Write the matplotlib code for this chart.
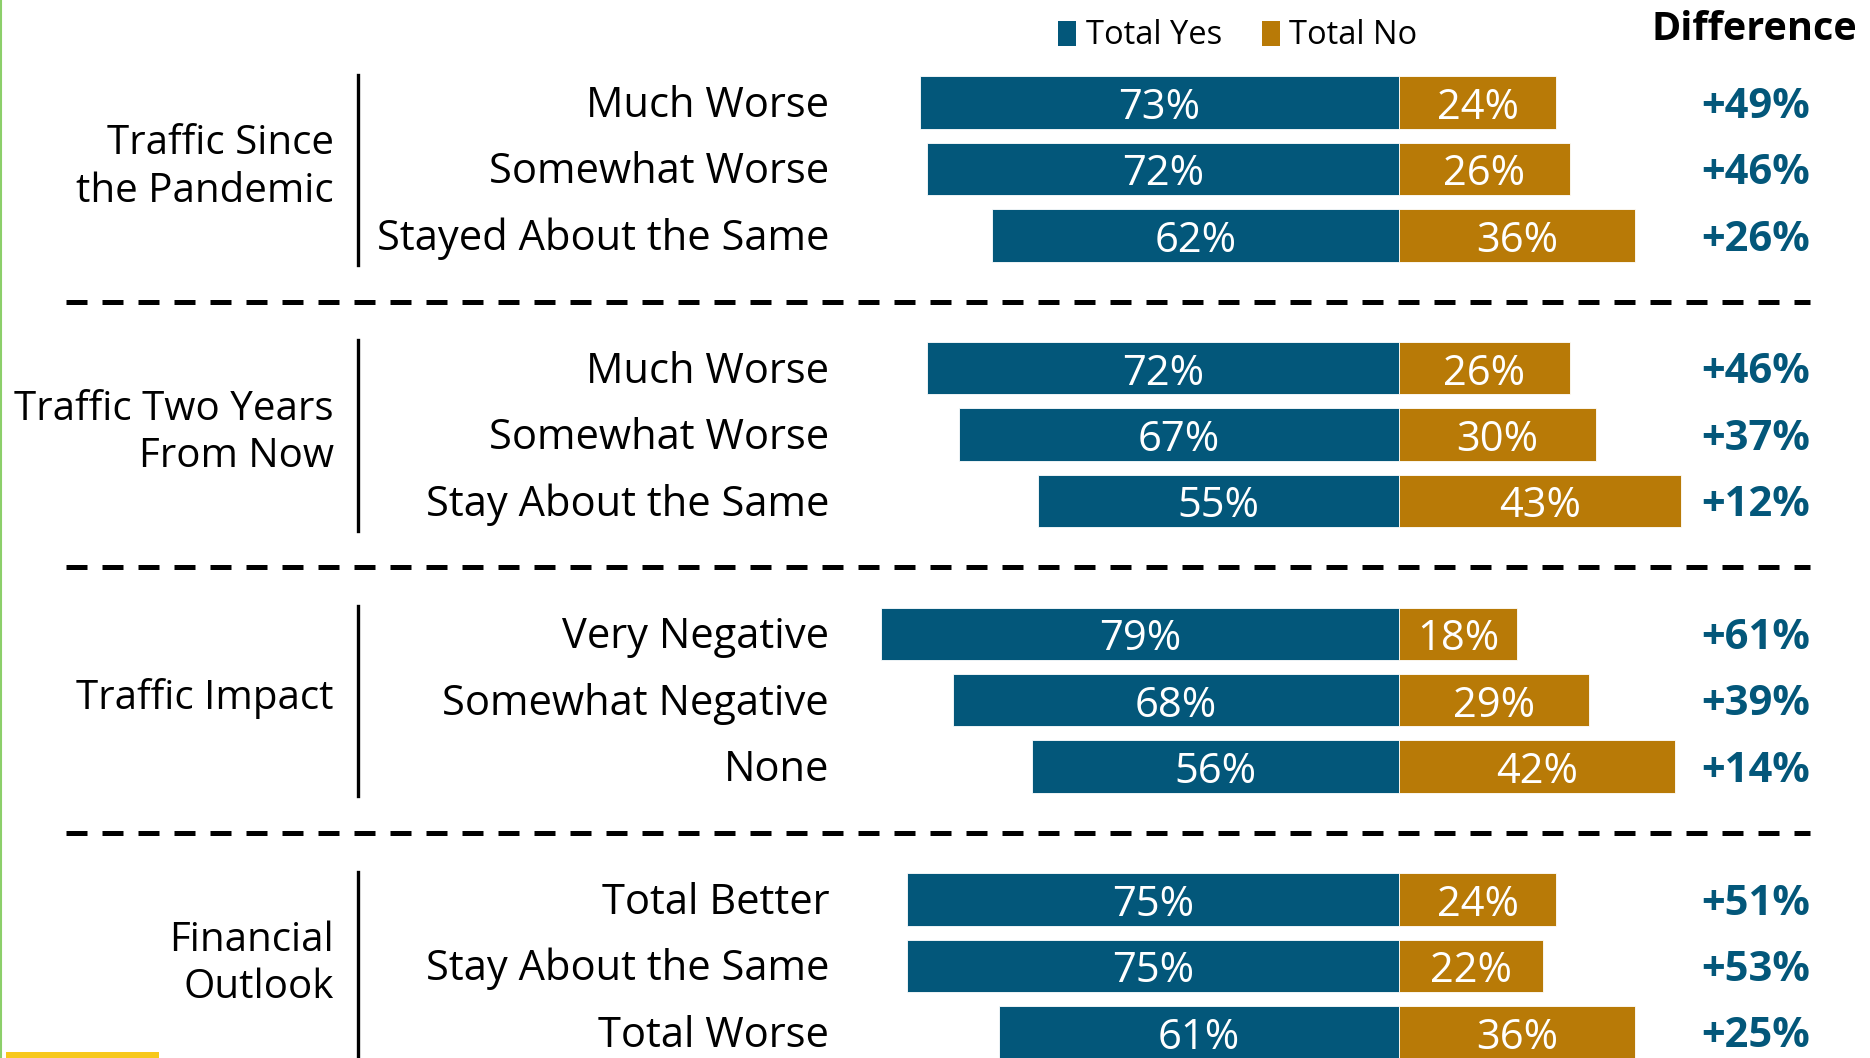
import matplotlib
matplotlib.use('Agg')
import matplotlib.pyplot as plt
from matplotlib.patches import Patch, Rectangle
from matplotlib.lines import Line2D

plt.rcParams['font.family'] = ['Open Sans', 'DejaVu Sans']

# Data
groups = ['Traffic Since\nthe Pandemic', 'Traffic Two Years\nFrom Now', 'Traffic Impact', 'Financial\nOutlook']
rows = [
    ['Much Worse', 'Somewhat Worse', 'Stayed About the Same'],
    ['Much Worse', 'Somewhat Worse', 'Stay About the Same'],
    ['Very Negative', 'Somewhat Negative', 'None'],
    ['Total Better', 'Stay About the Same', 'Total Worse'],
]
total_yes = [[73, 72, 62], [72, 67, 55], [79, 68, 56], [75, 75, 61]]
total_no = [[24, 26, 36], [26, 30, 43], [18, 29, 42], [24, 22, 36]]
difference = ['+49%', '+46%', '+26%', '+46%', '+37%', '+12%',
              '+61%', '+39%', '+14%', '+51%', '+53%', '+25%']

BLUE = '#03577A'
GOLD = '#B87A07'

W, H = 1870, 1058
fig = plt.figure(figsize=(W / 100, H / 100), dpi=100)
ax = fig.add_axes([0, 0, 1, 1])

# pixel-based layout: zero line at x=1399px, 6.56 px per percent; rows 66.4px apart
px_per_pct = 6.56
x0 = 1399
row_h = 66.4
y0 = 102.6
ax.set_xlim(-x0 / px_per_pct, (W - x0) / px_per_pct)
ax.set_ylim((H - y0) / row_h, -y0 / row_h)
ax.axis('off')

def px(x):
    return (x - x0) / px_per_pct

fs = 30
k = 0
for g, name in enumerate(groups):
    base = g * 4
    ys = [base + i for i in range(3)]
    yes = total_yes[g]
    no = total_no[g]
    ax.barh(ys, [-v for v in yes], height=0.79, color=BLUE, edgecolor='white', linewidth=0.6)
    ax.barh(ys, no, height=0.79, color=GOLD, edgecolor='white', linewidth=0.6)
    for i, y in enumerate(ys):
        ax.text(-yes[i] / 2, y + 0.08, f'{yes[i]}%', color='white', fontsize=fs,
                ha='center', va='center')
        ax.text(no[i] / 2, y + 0.08, f'{no[i]}%', color='white', fontsize=fs,
                ha='center', va='center')
        ax.text(px(829), y + 0.05, rows[g][i], fontsize=fs, ha='right', va='center')
        ax.text(px(1756), y + 0.07, difference[k], fontsize=fs, fontweight='bold',
                color=BLUE, ha='center', va='center')
        k += 1
    ax.text(px(334), base + 0.98, name, fontsize=29, ha='right', va='center',
            linespacing=1.22)
    ax.plot([px(358), px(358)], [base - 0.42, base + 2.45], color='black', lw=2.4)
    if g < len(groups) - 1:
        ax.plot([px(66), px(1810)], [base + 3, base + 3], color='black', lw=3.6,
                linestyle=(0, (4.2, 3)), solid_capstyle='butt', dash_capstyle='butt')

ax.text(px(1754), -1.1, 'Difference', fontsize=28.5, fontweight='bold',
        ha='center', va='center')

handles = [Patch(facecolor=BLUE, label='Total Yes'), Patch(facecolor=GOLD, label='Total No')]
fig.legend(handles=handles, loc='center', bbox_to_anchor=(0.662, 0.966), ncol=2,
           frameon=False, fontsize=23.5, handlelength=0.55, handleheight=0.8,
           handletextpad=0.3, columnspacing=1.2)

# decorative edges
fig.add_artist(Line2D([0.0008, 0.0008], [0, 1], color='#8CCF6A', lw=1.5))
fig.add_artist(Rectangle((6 / W, 0), 153 / W, 6 / H, facecolor='#F7C81C',
                         edgecolor='none', transform=fig.transFigure))

fig.savefig('out.png', dpi=100)
